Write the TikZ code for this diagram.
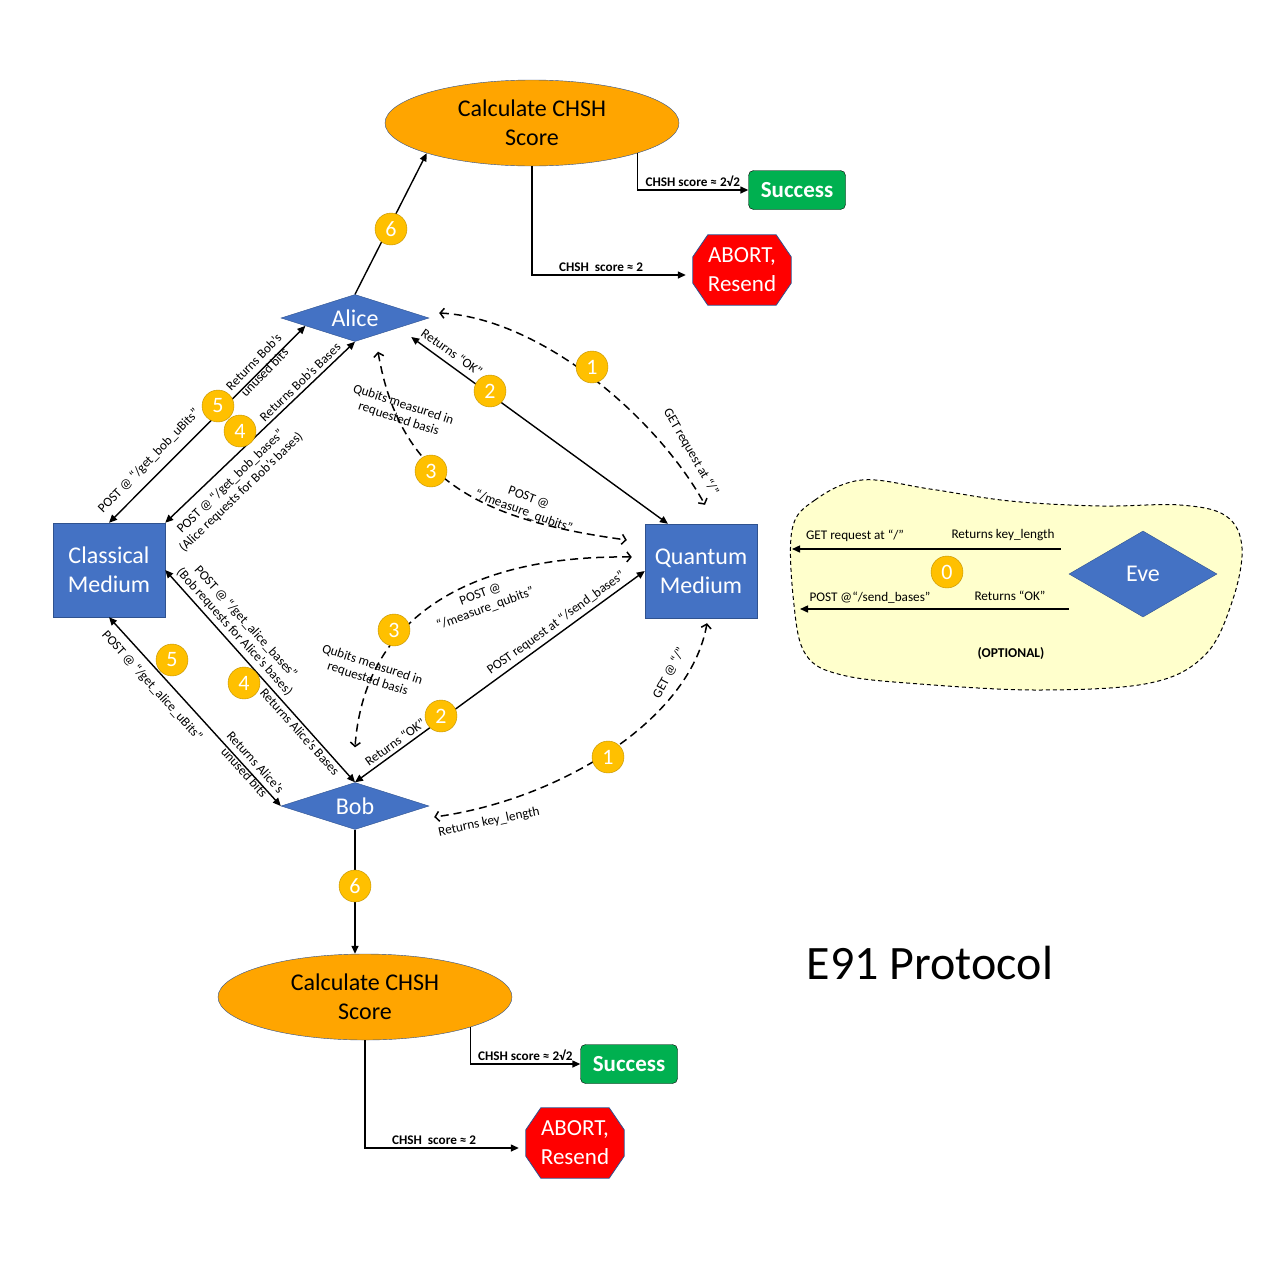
\documentclass[tikz,border=0pt]{standalone}
\usepackage{fontspec}
\setmainfont{Carlito}
\usepackage{tikz}
\usetikzlibrary{shapes,arrows.meta,backgrounds,calc}

\definecolor{nodeblue}{HTML}{4472C4}
\definecolor{edgeblue}{HTML}{2F528F}
\definecolor{chshorange}{HTML}{FFA500}
\definecolor{okgreen}{HTML}{00B050}
\definecolor{stepgold}{HTML}{FFC000}
\definecolor{stepedge}{HTML}{BF9000}
\definecolor{evecream}{HTML}{FFFFCC}

\tikzset{
  party/.style={diamond, aspect=3.15, fill=nodeblue, draw=edgeblue, text=white,
    inner sep=0pt, minimum width=148pt, minimum height=47pt,
    font=\fontsize{24}{29}\selectfont},
  medium/.style={rectangle, fill=nodeblue, draw=edgeblue, text=white, align=center,
    minimum width=112pt, minimum height=94pt, font=\fontsize{24}{29}\selectfont},
  chsh/.style={ellipse, fill=chshorange, draw=edgeblue, align=center, inner sep=0pt,
    minimum width=294pt, minimum height=86pt, font=\fontsize{24}{29}\selectfont},
  success/.style={rectangle, rounded corners=5pt, fill=okgreen, draw=black, text=white,
    minimum width=97pt, minimum height=39pt, font=\bfseries\fontsize{23}{28}\selectfont},
  abortbox/.style={rectangle, text=white, align=center, minimum width=98pt,
    minimum height=70pt, font=\fontsize{23}{29}\selectfont},
  badge/.style={circle, fill=stepgold, draw=stepedge, text=white, inner sep=0pt,
    minimum size=32pt, font=\fontsize{22}{24}\selectfont},
  lbl/.style={align=center, inner sep=0pt, font=\fontsize{13.2}{15}\selectfont},
  flow/.style={line width=1.4pt, >={Triangle[length=8pt,width=7pt]}},
  dashflow/.style={line width=1.5pt, dash pattern=on 8pt off 5pt,
    >={Straight Barb[length=4pt,width=10pt]}},
}

\begin{document}
\begin{tikzpicture}[x=1pt,y=-1pt,text=black]%
\useasboundingbox (0,0) rectangle (1280,1280);

\node (alice) [party] at (355,318) {Alice};
\node (bob) [party] at (355,806) {Bob};
\node (classical) [medium] at (109,570) {Classical\\Medium};
\node (quantum) [medium] at (701,571) {Quantum\\Medium};


\node (chshA) [chsh] at (532,123) {Calculate CHSH\\Score};
\node (successA) [success] at (797,190) {Success};
\node (abortA) [abortbox] at (742,270) {ABORT,\\Resend};

\node (chshB) [chsh] at (365,997) {Calculate CHSH\\Score};
\node (successB) [success] at (629,1064) {Success};
\node (abortB) [abortbox] at (575,1143) {ABORT,\\Resend};

\begin{scope}[on background layer]
\foreach \stop in {abortA,abortB}
  \filldraw[fill=red, draw=edgeblue, line width=0.8pt]
    ($(\stop.north west)+(15,0)$) -- ($(\stop.north east)+(-15,0)$)
    -- ($(\stop.north east)+(0,22)$) -- ($(\stop.south east)+(0,-22)$)
    -- ($(\stop.south east)+(-15,0)$) -- ($(\stop.south west)+(15,0)$)
    -- ($(\stop.south west)+(0,-22)$) -- ($(\stop.north west)+(0,22)$) -- cycle;
\end{scope}

\draw[flow,->] (chshA.-16) |- (successA.west)
    node (lblWinA) [lbl, pos=0.75, above=3pt] {\bfseries CHSH score ≈ 2√2};
\draw[flow,->, shorten >=7pt] (chshA.south) |- ($(abortA.west)+(0,5)$)
    node (lblLoseA) [lbl, pos=0.715, above=3pt] {\bfseries CHSH\ \ score ≈ 2};
\draw[flow,->] (chshB.-16) |- (successB.west)
    node (lblWinB) [lbl, pos=0.75, above=3pt] {\bfseries CHSH score ≈ 2√2};
\draw[flow,->, shorten >=7pt] (chshB.south) |- ($(abortB.west)+(0,5)$)
    node (lblLoseB) [lbl, pos=0.715, above=3pt] {\bfseries CHSH\ \ score ≈ 2};

\draw[flow,->] (alice.north) -- (chshA.196);
\draw[flow,->] (bob.south) -- (bob.south |- chshB.north);


% classical channel
\draw[flow,<->] (classical.north) -- (alice.189);
\draw[flow,<->] (classical.north east) -- (alice.south);
\draw[flow,<->] (classical.east) -- (bob.north);
\draw[flow,<->] (classical.south) -- (bob.west);

\node (lblBobBits) [lbl, rotate=46] at (259,367) {Returns Bob’s\\unused bits};
\node (lblGetBobBits) [lbl, rotate=46] at (149,461) {POST @ “/get\_bob\_uBits”};
\node (lblBobBases) [lbl, rotate=44] at (300,382) {Returns Bob’s Bases};
\node (lblGetBobBases) [lbl, rotate=44] at (236,487)
    {POST @ “/get\_bob\_bases”\\(Alice requests for Bob’s bases)};
\node (lblGetAliceBases) [lbl, rotate=-48] at (240,627)
    {POST @ “/get\_alice\_bases”\\(Bob requests for Alice’s bases)};
\node (lblAliceBases) [lbl, rotate=-48] at (300,732) {Returns Alice’s Bases};
\node (lblGetAliceBits) [lbl, rotate=-48] at (152,686) {POST @ “/get\_alice\_uBits”};
\node (lblAliceBits) [lbl, rotate=-48] at (250,767) {Returns Alice’s\\unused bits};


% quantum channel
\draw[flow,<->] ($(alice.east)+(-18,19)$) -- (quantum.125);
\draw[flow,<->] (bob.north) -- (quantum.west);
\draw[dashflow,<->] ($(alice.east)+(10,-5)$)
    .. controls +(100,5) and +(-50,-90) .. ($(quantum.north)+(4,-19)$);
\draw[dashflow,<->] ($(alice.south)+(23,10)$)
    .. controls +(22,128) and +(-147,-20) .. ($(quantum.west)+(-18,-31)$);
\draw[dashflow,<->] ($(quantum.west)+(-13,-14)$)
    .. controls +(-152,-2) and +(10,-137) .. ($(bob.north)+(0,-35)$);
\draw[dashflow,<->] ($(quantum.south)+(6,5)$)
    .. controls +(-17,97) and +(125,-17) .. ($(bob.east)+(5,11)$);

\node (lblOkA) [lbl, rotate=-35] at (452,352) {Returns “OK”};
\node (lblGetA) [lbl, rotate=-60] at (691,452) {GET request at “/”};
\node (lblQubitsA) [lbl, rotate=-18] at (401,412) {Qubits measured in\\requested basis};
\node (lblMeasureA) [lbl, rotate=-20] at (526,505) {POST @\\“/measure\_qubits”};
\node (lblOkB) [lbl, rotate=36] at (395,742) {Returns “OK”};
\node (lblSendB) [lbl, rotate=36] at (556,623) {POST request at “/send\_bases”};
\node (lblMeasureB) [lbl, rotate=20] at (483,602) {POST @\\“/measure\_qubits”};
\node (lblQubitsB) [lbl, rotate=-18] at (370,672) {Qubits measured in\\requested basis};
\node (lblGetB) [lbl, rotate=62] at (669,673) {GET @ “/”};
\node (lblKeyB) [lbl, rotate=12] at (489,822) {Returns key\_length};


% eve
\filldraw[fill=evecream, draw=black, line width=1pt, dash pattern=on 4pt off 3pt]
  plot[smooth cycle, tension=0.6] coordinates {(792,530) (815,500) (862,480) (930,489)
  (1010,501) (1100,506) (1180,505) (1226,516) (1242,548) (1232,602) (1205,655)
  (1150,683) (1040,690) (920,684) (842,675) (806,655) (794,605)};

\node (eve) [party, aspect=1.72, minimum height=86pt] at (1143,574) {Eve};
\coordinate (eveGet) at (792,549);
\coordinate (evePost) at (800,609);
\draw[flow,->] ($(eve.west)+(-8,-25)$) -- (eveGet);
\draw[flow,->] ($(eve.west)+(0,35)$) -- (evePost);

\node (lblEveGet) [lbl] at (855,536) {GET request at “/”};
\node (lblEveKey) [lbl] at (1003,535) {Returns key\_length};
\node (lblEvePost) [lbl] at (870,598) {POST @“/send\_bases”};
\node (lblEveOk) [lbl] at (1010,596) {Returns “OK”};
\node (lblOptional) [lbl, font=\bfseries\fontsize{13.5}{15}\selectfont] at (1011,654)
    {(OPTIONAL)};


\node (stepSixA) [badge] at (391,229) {6};
\node (stepSixB) [badge] at (355,886) {6};
\node (stepFiveA) [badge] at (218,406) {5};
\node (stepFourA) [badge] at (240,431) {4};
\node (stepFiveB) [badge] at (172,660) {5};
\node (stepFourB) [badge] at (244,683) {4};
\node (stepOneA) [badge] at (592,367) {1};
\node (stepTwoA) [badge] at (490,391) {2};
\node (stepThreeA) [badge] at (431,471) {3};
\node (stepThreeB) [badge] at (394,630) {3};
\node (stepTwoB) [badge] at (441,716) {2};
\node (stepOneB) [badge] at (608,757) {1};
\node (stepZero) [badge] at (947,572) {0};

\node (title) [font=\fontsize{48}{52}\selectfont] at (930,963) {E91 Protocol};

	\end{tikzpicture}
\end{document}
